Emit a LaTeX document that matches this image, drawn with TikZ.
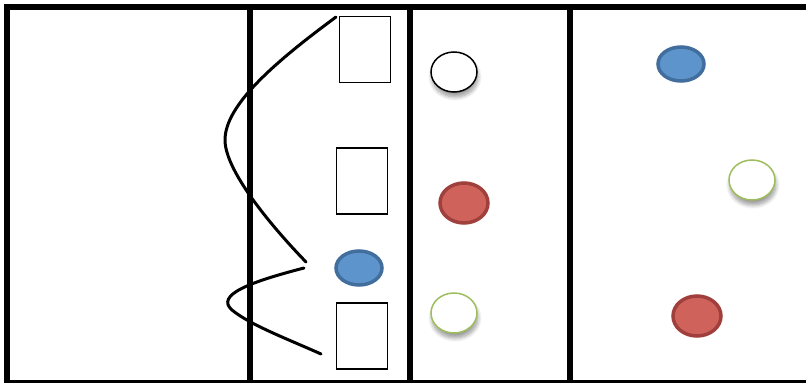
\documentclass[tikz,border=0pt]{standalone}
\usetikzlibrary{shadows.blur}
\usetikzlibrary{shapes.geometric}
\definecolor{bfill}{RGB}{94,148,204}
\definecolor{bdraw}{RGB}{66,110,158}
\definecolor{rfill}{RGB}{208,98,92}
\definecolor{rdraw}{RGB}{160,64,60}
\definecolor{gdraw}{RGB}{158,190,92}
\tikzset{
  x=1pt, y=-1pt,
  heavy/.style={line width=6pt},
  box/.style={draw, line width=1.5pt, minimum width=51pt, minimum height=66pt, inner sep=0pt},
  ov/.style={ellipse, inner sep=0pt, minimum width=46pt, minimum height=40pt},
  shad/.style={blur shadow={shadow xshift=1pt, shadow yshift=-5pt, shadow blur radius=4pt, shadow blur steps=8, shadow opacity=40}},
  whiteov/.style={ov, draw=black, line width=1.5pt, fill=white, shad},
  greenov/.style={ov, draw=gdraw, line width=1.5pt, fill=white, shad},
  blueov/.style={ov, draw=bdraw, line width=3.5pt, fill=bfill, minimum width=46pt, minimum height=34pt},
  redov/.style={ov, draw=rdraw, line width=3.5pt, fill=rfill, minimum width=48pt},
  wave/.style={line width=3pt, line cap=round},
}
\begin{document}
\begin{tikzpicture}
\useasboundingbox (0,0) rectangle (806,383);
% frame
\draw[heavy] (7,381) -- (7,7) -- (806,7);
\draw[line width=3pt] (4,381.5) -- (806,381.5);
\draw[heavy] (250,7) -- (250,381);
\draw[heavy] (410,7) -- (410,381);
\draw[heavy] (570,7) -- (570,381);
% boxes
\node[box] (r1) at (365,49.5) {};
\node[box] (r2) at (362,181) {};
\node[box] (r3) at (362,336) {};
% ellipses
\node[whiteov] (w1) at (454,72) {};
\node[redov] (red1) at (464,203) {};
\node[blueov] (b1) at (359,268) {};
\node[greenov] (g1) at (454,313) {};
\node[blueov] (b2) at (681,64) {};
\node[greenov] (g2) at (752,180) {};
\node[redov] (red2) at (697,316) {};
% curves
\coordinate (c1s) at (336,17);
\coordinate (c1m) at (225,140);
\coordinate (c1e) at (306,262);
\coordinate (c2s) at (304,268);
\coordinate (c2m) at (232,310);
\coordinate (c2e) at (321,354);
\draw[wave] (c1s) .. controls (275,62) and (225,105) .. (c1m) .. controls (225,172) and (275,230) .. (c1e);
\draw[wave] (c2s) .. controls (250,282) and (215,295) .. (c2m) .. controls (250,325) and (290,340) .. (c2e);
\end{tikzpicture}
\end{document}
